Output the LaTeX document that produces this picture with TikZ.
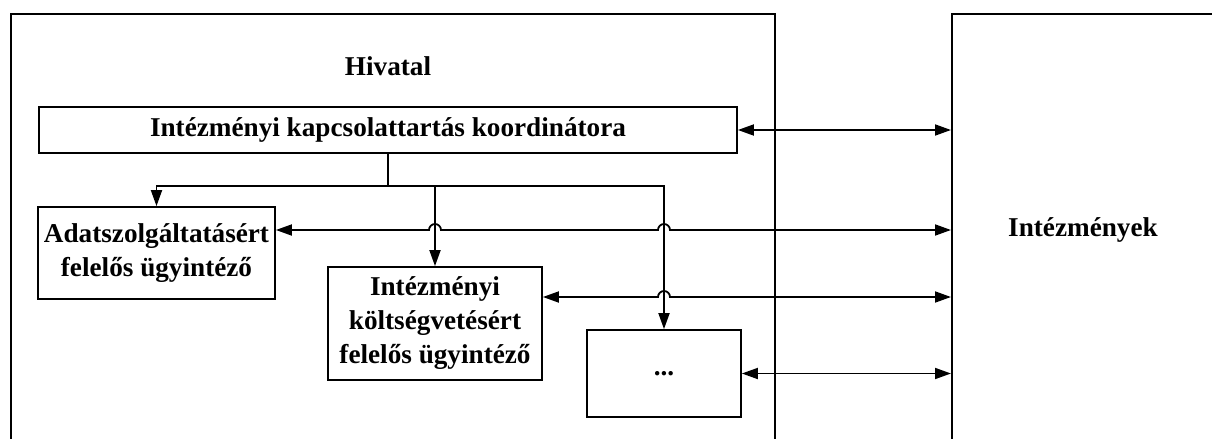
\documentclass[tikz,border=0pt]{standalone}
\usepackage{fontspec}
\setmainfont{Liberation Serif}
\usepackage{tikz}
\usetikzlibrary{arrows.meta,calc}

\tikzset{
    unit/.style={draw, line width=0.9pt, align=center, inner sep=0pt},
    feed/.style={line width=0.9pt, -{Triangle[length=8pt,width=5.5pt]}},
    link/.style={line width=0.9pt, {Triangle[length=8pt,width=5.5pt]}-{Triangle[length=8pt,width=5.5pt]}},
}

\begin{document}
\begin{tikzpicture}[x=0.5pt,y=-0.5pt,
    every node/.style={font=\bfseries\fontsize{13.6}{17}\selectfont}]
    \useasboundingbox (0,0) rectangle (1212,439);
    \clip (0,0) rectangle (1212,439);

    % the two sides, cut off at the edges
    \node[unit, anchor=north west, minimum width=382pt, minimum height=240pt] (hivatal) at (10,13) {};
    \node[unit, anchor=north west, minimum width=200pt, minimum height=240pt] (intezmenyek) at (951,13) {};
    \node (hivcim) at (388,66) {Hivatal};
    \node (intcim) at (1083,230) {Intézmények};

    \node[unit, minimum width=349pt, minimum height=23pt] (koord) at (388,130) {Intézményi kapcsolattartás koordinátora};
    \node[unit, minimum width=118.5pt, minimum height=46pt] (adat) at (156.5,253) {Adatszolgáltatásért\\felelős ügyintéző};
    \node[unit, minimum width=107pt, minimum height=56.5pt] (koltseg) at (435,323.5) {Intézményi\\költségvetésért\\felelős ügyintéző};
    \node[unit, minimum width=77pt, minimum height=43.5pt] (egyeb) at (664,373.5) {...};

    % coordinator to the clerks
    \coordinate (bus) at ([yshift=-16pt]koord.south);
    \draw[line width=0.9pt] (koord.south) -- (bus);
    \draw[feed] (bus) -| (adat.north);
    \draw[feed] (bus) -| (koltseg.north);
    \draw[feed] (bus) -| (egyeb.north);

    % links to the institutions
    \coordinate (a2) at ([yshift=11.5pt]adat.east);
    \coordinate (a3) at ([yshift=13.25pt]koltseg.east);
    \draw[link] (koord.east) -- (koord.east -| intezmenyek.west);
    \draw[link] (a2) -- ($(a2 -| koltseg.north)+(-6,0)$) arc[start angle=180, end angle=360, radius=6]
        -- ($(a2 -| egyeb.north)+(-6,0)$) arc[start angle=180, end angle=360, radius=6]
        -- (a2 -| intezmenyek.west);
    \draw[link] (a3) -- ($(a3 -| egyeb.north)+(-6,0)$) arc[start angle=180, end angle=360, radius=6]
        -- (a3 -| intezmenyek.west);
    \draw[link] (egyeb.east) -- (egyeb.east -| intezmenyek.west);
\end{tikzpicture}
\end{document}
